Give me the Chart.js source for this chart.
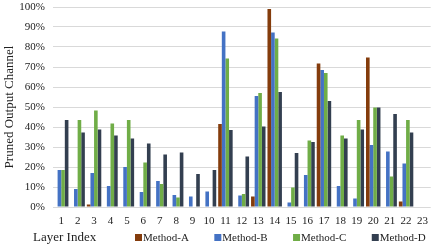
<!DOCTYPE html>
<html>
<head>
<meta charset="utf-8">
<script src="https://cdn.jsdelivr.net/npm/chart.js@4"></script>
<style>
  html, body { margin: 0; padding: 0; background: #fff; }
  #wrap { width: 436px; height: 245px; position: relative; }
</style>
</head>
<body>
<div id="wrap"><canvas id="chart"></canvas></div>
<script>
// layer labels
const layers = ['1','2','3','4','5','6','7','8','9','10','11','12','13','14','15','16','17','18','19','20','21','22','23'];

// pruned output channel (%) per method
const methodA = [0, 0, 1.3, 0, 0, 0, 0, 0, 0, 0, 41.5, 0, 5.2, 99, 0, 0, 71.7, 0, 0, 74.8, 0, 2.8, 0];
const methodB = [18.5, 9, 17, 10.5, 20, 7.5, 13, 6, 5.3, 7.8, 87.7, 5.8, 55.5, 87.3, 2.2, 16, 68.5, 10.5, 4.3, 31, 27.8, 21.7, 0];
const methodC = [18.5, 43.5, 48.2, 41.8, 43.5, 22.3, 11.5, 4.7, 0, 0, 74.3, 6.5, 57, 84.2, 9.7, 33.3, 67, 35.7, 43.5, 49.7, 15.2, 43.5, 0];
const methodD = [43.5, 37.3, 38.8, 35.8, 34.2, 31.8, 26.3, 27.3, 16.5, 18.5, 38.5, 25.2, 40.3, 57.5, 27, 32.5, 53, 34.2, 38.8, 49.7, 46.5, 37.3, 0];

const serif = "'Liberation Serif', 'Times New Roman', serif";

// bottom row: "Layer Index" on the left, legend on the right (same line)
const bottomRow = {
  id: 'bottomRow',
  afterDraw(chart) {
    const ctx = chart.ctx;
    const y = 238;
    ctx.save();
    ctx.textBaseline = 'middle';
    ctx.textAlign = 'left';
    ctx.fillStyle = '#222';
    ctx.font = '13px ' + serif;
    ctx.fillText('Layer Index', 33, y);

    ctx.font = '11px ' + serif;
    let x = 135;
    chart.data.datasets.forEach((ds) => {
      ctx.fillStyle = ds.backgroundColor;
      ctx.fillRect(x, y - 4, 7, 7);
      ctx.fillStyle = '#222';
      ctx.fillText(ds.label, x + 8, y);
      x += 8 + ctx.measureText(ds.label).width + 25.5;
    });
    ctx.restore();
  }
};

new Chart(document.getElementById('chart'), {
  type: 'bar',
  data: {
    labels: layers,
    datasets: [
      { label: 'Method-A', data: methodA, backgroundColor: '#843c0c' },
      { label: 'Method-B', data: methodB, backgroundColor: '#4472c4' },
      { label: 'Method-C', data: methodC, backgroundColor: '#70ad47' },
      { label: 'Method-D', data: methodD, backgroundColor: '#333f50' }
    ]
  },
  options: {
    responsive: true,
    maintainAspectRatio: false,
    animation: false,
    datasets: { bar: { categoryPercentage: 0.88, barPercentage: 1.0 } },
    layout: { autoPadding: false, padding: { top: 0, right: 0, left: 0, bottom: 17 } },
    plugins: {
      tooltip: { enabled: false },
      legend: { display: false }
    },
    scales: {
      x: {
        grid: { display: false, drawTicks: false },
        border: { display: false },
        afterFit(scale) { scale.height = 21; },
        ticks: { font: { family: serif, size: 11 }, color: '#222', padding: 8, maxRotation: 0, autoSkip: false }
      },
      y: {
        min: 0,
        max: 100,
        border: { display: false },
        grid: { color: '#d9d9d9', drawTicks: false },
        afterFit(scale) {
          scale.width = 53;
          scale.paddingTop = 7;
          scale.paddingBottom = 0;
        },
        ticks: {
          stepSize: 10,
          padding: 8,
          font: { family: serif, size: 11 },
          color: '#222',
          callback: (v) => v + '%'
        },
        title: {
          display: true,
          text: 'Pruned Output Channel',
          font: { family: serif, size: 13 },
          color: '#222',
          padding: { top: 2, bottom: 2 }
        }
      }
    }
  },
  plugins: [bottomRow]
});
</script>
</body>
</html>
